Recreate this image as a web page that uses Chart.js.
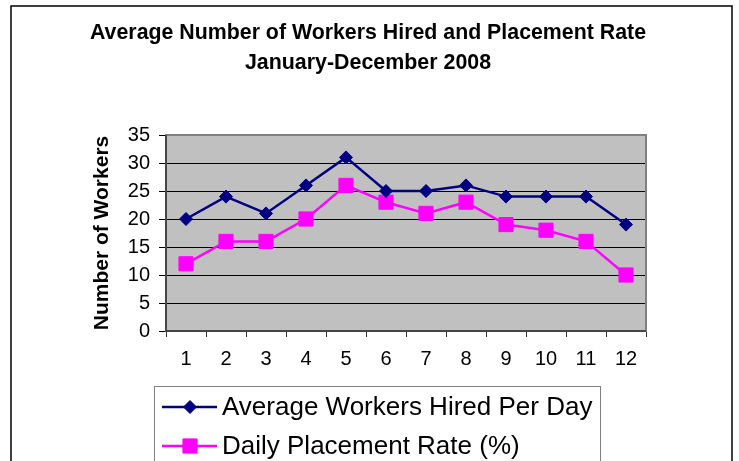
<!DOCTYPE html>
<html>
<head>
<meta charset="utf-8">
<script src="https://cdn.jsdelivr.net/npm/chart.js@4/dist/chart.umd.min.js"></script>
<style>
  html, body { margin: 0; padding: 0; background: #fff; }
  #wrap { width: 739px; height: 461px; }
</style>
</head>
<body>
<div id="wrap"><canvas id="chart" width="739" height="461"></canvas></div>
<script>
// data
const months = ['1', '2', '3', '4', '5', '6', '7', '8', '9', '10', '11', '12'];
const workersHired = [20, 24, 21, 26, 31, 25, 25, 26, 24, 24, 24, 19];
const placementRate = [12, 16, 16, 20, 26, 23, 21, 23, 19, 18, 16, 10];
const seriesNames = ['Average Workers Hired Per Day', 'Daily Placement Rate (%)'];
const titleLines = ['Average Number of Workers Hired and Placement Rate', 'January-December 2008'];
const yAxisTitle = 'Number of Workers';
const yMin = 0, yMax = 35, yStep = 5;

const FONT = '"Liberation Sans", Arial, sans-serif';

// frame, grey plot area, legend box
const excelLook = {
  id: 'excelLook',
  beforeDraw(chart) {
    const { ctx, chartArea: a } = chart;
    ctx.save();
    ctx.fillStyle = '#fff';
    ctx.fillRect(0, 0, chart.width, chart.height);
    ctx.strokeStyle = '#000';
    ctx.lineWidth = 1.5;
    ctx.strokeRect(11, 6, 721, 520);
    ctx.fillStyle = '#c0c0c0';
    ctx.fillRect(a.left, a.top, a.right - a.left, a.bottom - a.top);
    ctx.restore();
  },
  beforeDatasetsDraw(chart) {
    const { ctx, chartArea: a } = chart;
    ctx.save();
    ctx.strokeStyle = '#808080';
    ctx.lineWidth = 2;
    ctx.strokeRect(a.left, a.top, a.right - a.left, a.bottom - a.top);
    ctx.strokeStyle = '#333';
    ctx.lineWidth = 1.5;
    ctx.beginPath();
    ctx.moveTo(a.left, a.top);
    ctx.lineTo(a.left, a.bottom);
    ctx.lineTo(a.right, a.bottom);
    ctx.stroke();
    ctx.restore();
  },
  afterDraw(chart) {
    const { ctx } = chart;
    ctx.save();
    ctx.strokeStyle = '#808080';
    ctx.lineWidth = 1;
    ctx.strokeRect(154.5, 386.5, 446, 120);
    ctx.font = '26px ' + FONT;
    ctx.textBaseline = 'middle';
    ctx.textAlign = 'left';
    chart.data.datasets.forEach((ds, i) => {
      const y = 407 + i * 39;
      ctx.strokeStyle = ds.borderColor;
      ctx.lineWidth = 2.5;
      ctx.beginPath();
      ctx.moveTo(162, y);
      ctx.lineTo(217, y);
      ctx.stroke();
      ctx.fillStyle = ds.backgroundColor;
      ctx.strokeStyle = ds.borderColor;
      ctx.lineWidth = 1;
      Chart.helpers.drawPoint(ctx, {
        pointStyle: ds.pointStyle, radius: ds.pointRadius, rotation: 0, borderWidth: 1
      }, 190, y);
      ctx.fillStyle = '#000';
      ctx.fillText(ds.label, 222, y + 1);
    });
    ctx.restore();
  }
};

new Chart(document.getElementById('chart'), {
  type: 'line',
  data: {
    labels: months,
    datasets: [
      {
        label: seriesNames[0],
        data: workersHired,
        borderColor: '#000080',
        backgroundColor: '#000080',
        borderWidth: 2.5,
        pointStyle: 'rectRot',
        pointRadius: 6.5,
        pointBorderWidth: 1,
        tension: 0
      },
      {
        label: seriesNames[1],
        data: placementRate,
        borderColor: '#ff00ff',
        backgroundColor: '#ff00ff',
        borderWidth: 2.5,
        pointStyle: 'rect',
        pointRadius: 10,
        pointBorderWidth: 1,
        tension: 0
      }
    ]
  },
  options: {
    responsive: false,
    animation: false,
    layout: { padding: { left: 90, right: 93, top: 10, bottom: 80 } },
    plugins: {
      legend: { display: false },
      tooltip: { enabled: false },
      title: {
        display: true,
        text: titleLines,
        color: '#000',
        font: { family: FONT, size: 21.4, weight: 'bold', lineHeight: '30px' },
        padding: { top: 8, bottom: 57 }
      }
    },
    scales: {
      x: {
        offset: true,
        grid: { offset: true, drawOnChartArea: false, drawTicks: true, tickLength: 6, color: '#333', lineWidth: 1 },
        border: { display: false },
        ticks: { color: '#000', font: { family: FONT, size: 20 }, padding: 10, maxRotation: 0 },
        afterFit(scale) { scale.height = 50; }
      },
      y: {
        min: yMin,
        max: yMax,
        grid: { color: '#000', lineWidth: 1, tickLength: 7, drawTicks: true },
        border: { display: false },
        ticks: { stepSize: yStep, color: '#000', font: { family: FONT, size: 20 }, padding: 9 },
        title: {
          display: true,
          text: yAxisTitle,
          color: '#000',
          font: { family: FONT, size: 21, weight: 'bold' },
          padding: 0
        },
        afterFit(scale) { scale.width = 76; }
      }
    }
  },
  plugins: [excelLook]
});
</script>
</body>
</html>
